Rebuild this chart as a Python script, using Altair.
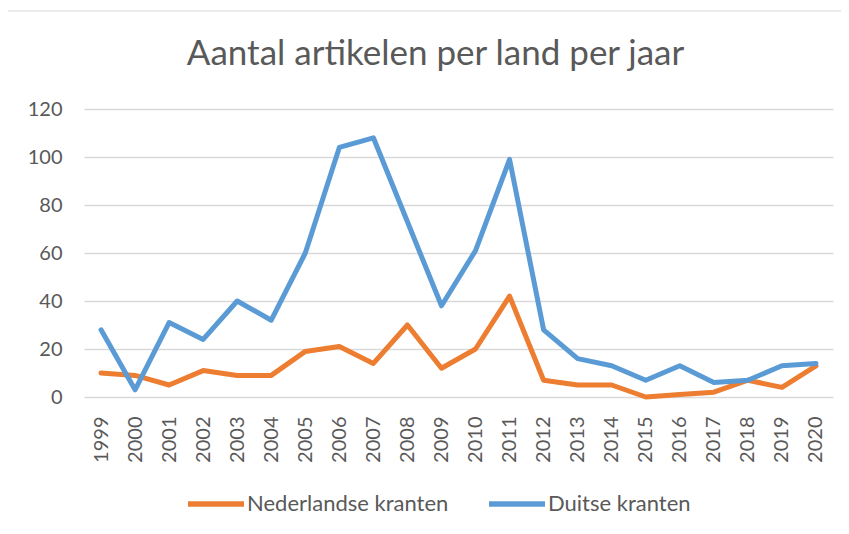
import altair as alt
import pandas as pd

years = [str(y) for y in range(1999, 2021)]
nederlandse = [10, 9, 5, 11, 9, 9, 19, 21, 14, 30, 12, 20, 42, 7, 5, 5, 0, 1, 2, 7, 4, 13]
duitse = [28, 3, 31, 24, 40, 32, 60, 104, 108, 73, 38, 61, 99, 28, 16, 13, 7, 13, 6, 7, 13, 14]
series_names = ["Nederlandse kranten", "Duitse kranten"]
series_colors = ["#ED7D31", "#5B9BD5"]
y_ticks = [0, 20, 40, 60, 80, 100, 120]

rows = []
for name, vals in zip(series_names, [nederlandse, duitse]):
    for y, v in zip(years, vals):
        rows.append({"jaar": y, "aantal": v, "land": name})
df = pd.DataFrame(rows)

W, H = 749, 288
FONT = "Lato"
GREY = "#595959"

lines = alt.Chart(df).mark_line(strokeWidth=5, strokeJoin="round", strokeCap="round").encode(
    x=alt.X("jaar:O", sort=years, title=None,
            scale=alt.Scale(type="point", padding=0.5),
            axis=alt.Axis(labelAngle=270, labelPadding=19, ticks=False, tickSize=0,
                          domain=False, grid=False, labelFontSize=20, labelColor=GREY,
                          labelFont=FONT)),
    y=alt.Y("aantal:Q", title=None,
            scale=alt.Scale(domain=[0, 120], nice=False, zero=True),
            axis=alt.Axis(values=y_ticks, ticks=False, tickSize=0, domain=False,
                          grid=True, gridColor="#d9d9d9", gridWidth=1.3,
                          labelPadding=22, labelFontSize=20, labelColor=GREY,
                          labelFont=FONT)),
    color=alt.Color("land:N", sort=series_names,
                    scale=alt.Scale(domain=series_names, range=series_colors),
                    legend=alt.Legend(title=None, orient="none", direction="horizontal",
                                      legendX=101, legendY=364, symbolType="stroke",
                                      symbolSize=3136, symbolStrokeWidth=5.5,
                                      labelFontSize=22, labelColor=GREY, labelFont=FONT,
                                      labelOffset=0, columnPadding=29, padding=0,
                                      labelLimit=400)),
    order=alt.Order("land:N", sort="descending"),
)

frame = alt.Chart(alt.Data(values=[{"a": 1}])).mark_rect(
    fill="transparent", stroke="#d9d9d9", strokeWidth=1
).encode(
    x=alt.value(-77), x2=alt.value(W + 40), y=alt.value(-98), y2=alt.value(H + 160)
)

chart = alt.layer(frame, lines).properties(
    width=W, height=H,
    autosize=alt.AutoSizeParams(type="none"),
    padding={"left": 76, "top": 101, "right": 8, "bottom": 129},
    title=alt.TitleParams("Aantal artikelen per land per jaar", fontSize=35, font=FONT,
                          fontWeight="normal", color=GREY, anchor="middle", dx=-23,
                          offset=-89, baseline="alphabetic"),
).configure(background="white").configure_view(stroke="transparent", strokeWidth=0)

chart.save("out.html", embed_options={"renderer": "svg", "actions": False})
